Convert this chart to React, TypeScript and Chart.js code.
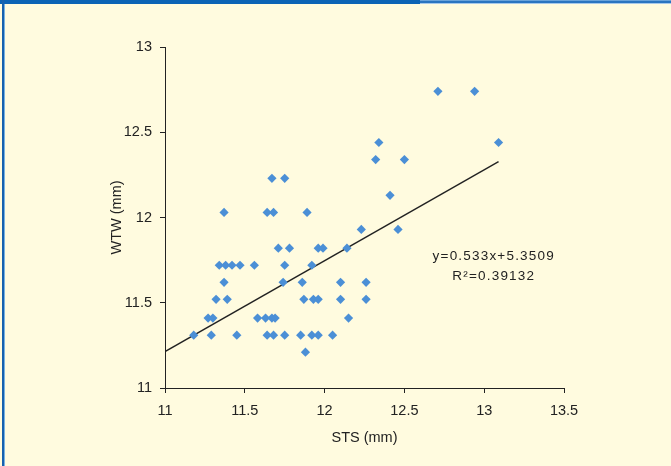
import React, { useEffect, useRef } from "react";
import { Chart, registerables } from "chart.js";

Chart.register(...registerables);

// ---- data ----
const stsValues: number[] = [
  12.71, 12.94,
  12.34, 13.09,
  12.32, 12.5,
  11.67, 11.75,
  12.41,
  11.37, 11.64, 11.68, 11.89,
  12.23, 12.46,
  11.71, 11.78, 11.96, 11.99, 12.14,
  11.34, 11.38, 11.42, 11.47, 11.56, 11.75, 11.92,
  11.37, 11.74, 11.86, 12.1, 12.26,
  11.32, 11.39, 11.87, 11.93, 11.96, 12.1, 12.26,
  11.27, 11.3, 11.58, 11.63, 11.67, 11.69, 12.15,
  11.18, 11.29, 11.45, 11.64, 11.68, 11.75, 11.85, 11.92, 11.96, 12.05,
  11.88,
];
const wtwValues: number[] = [
  12.74, 12.74,
  12.44, 12.44,
  12.34, 12.34,
  12.23, 12.23,
  12.13,
  12.03, 12.03, 12.03, 12.03,
  11.93, 11.93,
  11.82, 11.82, 11.82, 11.82, 11.82,
  11.72, 11.72, 11.72, 11.72, 11.72, 11.72, 11.72,
  11.62, 11.62, 11.62, 11.62, 11.62,
  11.52, 11.52, 11.52, 11.52, 11.52, 11.52, 11.52,
  11.41, 11.41, 11.41, 11.41, 11.41, 11.41, 11.41,
  11.31, 11.31, 11.31, 11.31, 11.31, 11.31, 11.31, 11.31, 11.31, 11.31,
  11.21,
];
const trendSlope = 0.533;
const trendIntercept = 5.3509;
const trendRange: number[] = [11, 13.09];
const equationText = "y=0.533x+5.3509";
const r2Text = "R²=0.39132";
const xTicks: number[] = [11, 11.5, 12, 12.5, 13, 13.5];
const yTicks: number[] = [11, 11.5, 12, 12.5, 13];
const xTitle = "STS (mm)";
const yTitle = "WTW (mm)";

const FONT = "'Liberation Sans', Arial, sans-serif";

const annotationPlugin = {
  id: "eqnLabel",
  afterDatasetsDraw(chart: any) {
    const { ctx, scales } = chart;
    const cx = scales.x.getPixelForValue(13.06);
    const cy = scales.y.getPixelForValue(11.77);
    ctx.save();
    ctx.fillStyle = "#222";
    ctx.font = `13.5px ${FONT}`;
    try { (ctx as any).letterSpacing = "1.2px"; } catch (e) {}
    ctx.textAlign = "center";
    ctx.textBaseline = "middle";
    ctx.fillText(equationText, cx, cy);
    ctx.fillText(r2Text, cx, cy + 20);
    ctx.restore();
  },
};

export default function App() {
  const ref = useRef<HTMLCanvasElement | null>(null);

  useEffect(() => {
    document.body.style.margin = "0";
    if (!ref.current) return;
    const points = stsValues.map((x, i) => ({ x, y: wtwValues[i] }));
    const trend = trendRange.map((x) => ({ x, y: trendSlope * x + trendIntercept }));
    const tickFont = { family: FONT, size: 14.5 };
    const chart = new Chart(ref.current, {
      type: "scatter",
      data: {
        datasets: [
          {
            type: "scatter",
            data: points,
            pointStyle: "rectRot",
            pointRadius: 4.6,
            pointBorderWidth: 0,
            backgroundColor: "#4b8fd6",
            borderColor: "#4b8fd6",
          },
          {
            type: "line",
            data: trend,
            borderColor: "#222",
            borderWidth: 1.4,
            pointRadius: 0,
            fill: false,
          } as any,
        ],
      },
      plugins: [annotationPlugin],
      options: {
        animation: false,
        responsive: false,
        devicePixelRatio: 1,
        layout: { padding: { left: 0, top: 47, right: 107, bottom: 0 } },
        plugins: { legend: { display: false }, tooltip: { enabled: false } },
        scales: {
          x: {
            type: "linear",
            min: 11,
            max: 13.5,
            afterBuildTicks: (s: any) => { s.ticks = xTicks.map((v) => ({ value: v })); },
            afterFit: (s: any) => { s.height = 78; },
            ticks: {
              color: "#222",
              font: tickFont,
              padding: 9,
              callback: (v: any) => String(v),
            },
            grid: { drawOnChartArea: false, drawTicks: true, tickLength: 5, color: "#222", lineWidth: 1 },
            border: { display: true, color: "#222", width: 1 },
            title: {
              display: true,
              text: xTitle,
              color: "#222",
              font: { family: FONT, size: 14.5 },
              padding: { top: 0, bottom: 19 },
            },
          },
          y: {
            type: "linear",
            min: 11,
            max: 13,
            afterBuildTicks: (s: any) => { s.ticks = yTicks.map((v) => ({ value: v })); },
            afterFit: (s: any) => { s.width = 165; },
            ticks: {
              color: "#222",
              font: tickFont,
              padding: 8,
              callback: (v: any) => String(v),
            },
            grid: { drawOnChartArea: false, drawTicks: true, tickLength: 5, color: "#222", lineWidth: 1 },
            border: { display: true, color: "#222", width: 1 },
            title: {
              display: true,
              text: yTitle,
              color: "#222",
              font: { family: FONT, size: 14.5 },
              padding: { top: 108, bottom: 0 },
            },
          },
        },
      } as any,
    });
    return () => chart.destroy();
  }, []);

  return (
    <div style={{ position: "absolute", left: 0, top: 0, width: 671, height: 466, background: "#fffbdf", overflow: "hidden" }}>
      <div style={{ position: "absolute", left: 0, top: 0, width: 420, height: 4, background: "#0b63b5" }} />
      <div style={{ position: "absolute", left: 420, top: 0, width: 251, height: 1, background: "#6aa3da" }} />
      <div style={{ position: "absolute", left: 420, top: 1, width: 251, height: 2, background: "#2a74c0" }} />
      <div style={{ position: "absolute", left: 420, top: 3, width: 251, height: 1, background: "#a6c8ea" }} />
      <div style={{ position: "absolute", left: 2, top: 0, width: 2, height: 466, background: "#1761ae" }} />
      <div style={{ position: "absolute", left: 4, top: 4, width: 1, height: 462, background: "#78b2e2" }} />
      <canvas ref={ref} width={671} height={466} style={{ position: "absolute", left: 0, top: 0, width: 671, height: 466 }} />
    </div>
  );
}
